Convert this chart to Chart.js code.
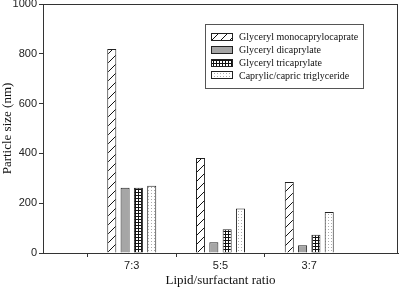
<!DOCTYPE html>
<html>
<head>
<meta charset="utf-8">
<script src="https://cdn.jsdelivr.net/npm/chart.js@4"></script>
<style>
  html, body { margin: 0; padding: 0; background: #fff; }
  #wrap { width: 400px; height: 288px; }
</style>
</head>
<body>
<div id="wrap"><canvas id="myChart"></canvas></div>
<script>
// data
const ratios = ['7:3', '5:5', '3:7'];
const xPos = [1, 2, 3];
const seriesNames = ['Glyceryl monocaprylocaprate', 'Glyceryl dicaprylate', 'Glyceryl tricaprylate', 'Caprylic/capric triglyceride'];
const monocaprylocaprate = [819, 382, 285];
const dicaprylate = [262, 43, 31];
const tricaprylate = [262, 95, 73];
const capricTriglyceride = [270, 179, 165];
const yTicks = [0, 200, 400, 600, 800, 1000];

function makePattern(kind) {
    var c = document.createElement('canvas');
    var g = c.getContext('2d');
    if (kind == 'hatch') {
        c.width = 9; c.height = 9;
        g.fillStyle = '#fff'; g.fillRect(0, 0, 9, 9);
        g.strokeStyle = '#111'; g.lineWidth = 1;
        g.beginPath();
        g.moveTo(0, 9); g.lineTo(9, 0);
        g.moveTo(-1, 1); g.lineTo(1, -1);
        g.moveTo(8, 10); g.lineTo(10, 8);
        g.stroke();
    } else if (kind == 'grid') {
        c.width = 3; c.height = 3;
        g.fillStyle = '#fff'; g.fillRect(0, 0, 3, 3);
        g.fillStyle = '#111';
        g.fillRect(0, 0, 3, 1);
        g.fillRect(0, 0, 1, 3);
    } else {
        c.width = 3; c.height = 3;
        g.fillStyle = '#fff'; g.fillRect(0, 0, 3, 3);
        g.fillStyle = '#aaa';
        g.fillRect(1, 1, 1, 1);
    }
    return g.createPattern(c, 'repeat');
}

const fills = [makePattern('hatch'), '#a6a6a6', makePattern('grid'), makePattern('dots')];
const seriesData = [monocaprylocaprate, dicaprylate, tricaprylate, capricTriglyceride];

const datasets = seriesData.map(function(vals, k) {
    return {
        label: seriesNames[k],
        data: vals.map(function(v, i) { return {x: xPos[i], y: v}; }),
        backgroundColor: fills[k],
        borderColor: '#222',
        borderWidth: 1,
        categoryPercentage: 0.6,
        barPercentage: 0.68
    };
});

// frame round the plot area
const framePlugin = {
    id: 'frame',
    afterDraw: function(chart) {
        var a = chart.chartArea, g = chart.ctx;
        g.save();
        g.strokeStyle = '#333';
        g.lineWidth = 1;
        g.strokeRect(a.left + 0.5, a.top + 0.5, a.right - a.left - 1, a.bottom - a.top);
        g.restore();
    }
};

// boxed legend like the original
const boxLegend = {
    id: 'boxLegend',
    afterDraw: function(chart) {
        var g = chart.ctx;
        var bx = 205, by = 24, bw = 158, bh = 64;
        g.save();
        g.fillStyle = '#fff';
        g.fillRect(bx, by, bw, bh);
        g.strokeStyle = '#555';
        g.lineWidth = 1;
        g.strokeRect(bx + 0.5, by + 0.5, bw, bh);
        g.font = '10px "Liberation Serif"';
        g.textBaseline = 'middle';
        chart.data.datasets.forEach(function(ds, k) {
            var cy = 37 + k * 12.8;
            g.fillStyle = ds.backgroundColor;
            g.fillRect(211, Math.round(cy - 4), 22, 8);
            g.strokeStyle = '#222';
            g.strokeRect(211.5, Math.round(cy - 4) + 0.5, 21, 7);
            g.fillStyle = '#111';
            g.fillText(ds.label, 239, cy + 0.5);
        });
        g.restore();
    }
};

const ctx = document.getElementById('myChart').getContext('2d');
const myChart = new Chart(ctx, {
    type: 'bar',
    data: { datasets: datasets },
    plugins: [framePlugin, boxLegend],
    options: {
        responsive: true,
        maintainAspectRatio: false,
        animation: false,
        layout: { padding: { top: 0, right: 2, left: 0, bottom: 0 } },
        plugins: {
            legend: { display: false },
            tooltip: { enabled: false }
        },
        scales: {
            x: {
                type: 'linear',
                min: 0,
                max: 4,
                offset: false,
                afterFit: function(s) { s.height = 35; },
                ticks: {
                    stepSize: 1,
                    autoSkip: false,
                    maxRotation: 0,
                    color: '#222',
                    font: { family: 'Liberation Sans', size: 11 },
                    padding: 2,
                    callback: function(v) { return ratios[v - 1] || ''; }
                },
                grid: {
                    drawOnChartArea: false,
                    tickLength: 4,
                    color: function(c) {
                        var v = c.tick ? c.tick.value : 0;
                        return (v >= 1 && v <= 3) ? '#333' : 'rgba(0,0,0,0)';
                    }
                },
                border: { color: '#333' },
                title: {
                    display: true,
                    text: 'Lipid/surfactant ratio',
                    color: '#111',
                    font: { family: 'Liberation Serif', size: 13 },
                    padding: { top: 2, bottom: 0 }
                }
            },
            y: {
                min: 0,
                max: 1000,
                afterFit: function(s) {
                    s.width = 43;
                    s.paddingTop = 4;
                    s.paddingBottom = 0;
                },
                afterBuildTicks: function(s) {
                    s.ticks = yTicks.map(function(v) { return {value: v}; });
                },
                ticks: {
                    color: '#222',
                    font: { family: 'Liberation Sans', size: 11 },
                    padding: 2,
                    callback: function(v) { return String(v); }
                },
                grid: { drawOnChartArea: false, tickLength: 4, color: '#333' },
                border: { color: '#333' },
                title: {
                    display: true,
                    text: 'Particle size (nm)',
                    color: '#111',
                    font: { family: 'Liberation Serif', size: 13 },
                    padding: { top: 0, bottom: 2 }
                }
            }
        }
    }
});
</script>
</body>
</html>
